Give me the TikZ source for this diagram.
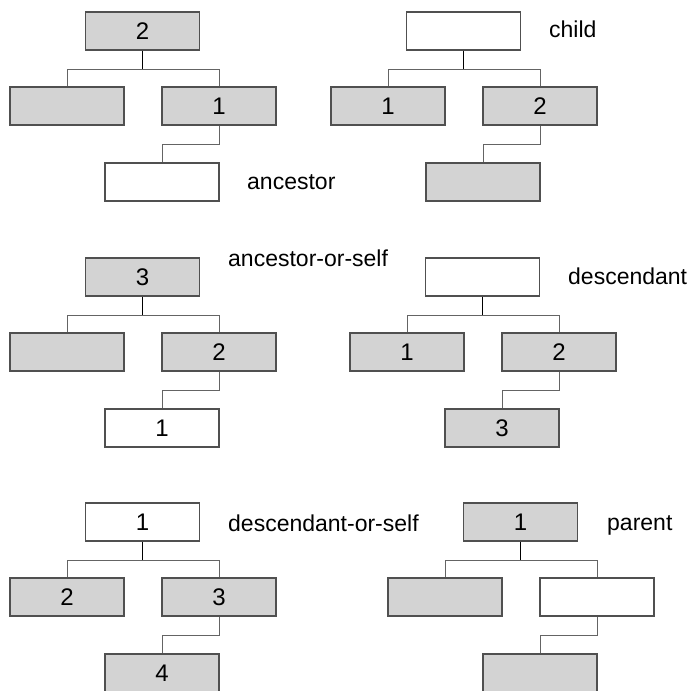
\documentclass[tikz,border=0pt]{standalone}
\usepackage{fontspec}
\setmainfont{Liberation Sans}
\definecolor{BoxClr}{RGB}{211,211,211}
\definecolor{EdgeClr}{RGB}{80,80,80}
\definecolor{LinkClr}{RGB}{100,100,100}

\begin{document}
\begin{tikzpicture}[x=1pt,y=1pt,
  box/.style={draw=EdgeClr,line width=1.2pt,minimum width=114pt,minimum height=38pt,
    inner sep=0pt,font=\fontsize{24}{28}\selectfont},
  hit/.style={box,fill=BoxClr},
  nohit/.style={box,fill=white},
  stem/.style={line width=1.8pt,black},
  link/.style={line width=1pt,LinkClr},
  axisname/.style={inner sep=0pt,anchor=base west,font=\fontsize{23}{27}\selectfont}]
\useasboundingbox (0,0) rectangle (692,690);

% ancestor
\node[hit]   (anT) at (142.5,659) {2};
\node[hit]   (anL) at (67,584) {};
\node[hit]   (anR) at (219,584) {1};
\node[nohit] (anG) at (162,508) {};
\draw[stem] (anT.south) -- ++(0,-19) coordinate (anB);
\draw[link] (anL.north) |- (anB) -| (anR.north);
\draw[link] (anR.south) -- ++(0,-19) -| (anG.north);
\node[axisname] (anN) at (247,500) {ancestor};

% child
\begin{scope}[shift={(321,0)}]
\node[nohit] (chT) at (142.5,659) {};
\node[hit]   (chL) at (67,584) {1};
\node[hit]   (chR) at (219,584) {2};
\node[hit]   (chG) at (162,508) {};
\draw[stem] (chT.south) -- ++(0,-19) coordinate (chB);
\draw[link] (chL.north) |- (chB) -| (chR.north);
\draw[link] (chR.south) -- ++(0,-19) -| (chG.north);
\end{scope}
\node[axisname] (chN) at (549,652) {child};

% ancestor-or-self
\begin{scope}[shift={(0,-246)}]
\node[hit]   (asT) at (142.5,659) {3};
\node[hit]   (asL) at (67,584) {};
\node[hit]   (asR) at (219,584) {2};
\node[nohit] (asG) at (162,508) {1};
\draw[stem] (asT.south) -- ++(0,-19) coordinate (asB);
\draw[link] (asL.north) |- (asB) -| (asR.north);
\draw[link] (asR.south) -- ++(0,-19) -| (asG.north);
\end{scope}
\node[axisname] (asN) at (228,423) {ancestor-or-self};

% descendant
\begin{scope}[shift={(340,-246)}]
\node[nohit] (deT) at (142.5,659) {};
\node[hit]   (deL) at (67,584) {1};
\node[hit]   (deR) at (219,584) {2};
\node[hit]   (deG) at (162,508) {3};
\draw[stem] (deT.south) -- ++(0,-19) coordinate (deB);
\draw[link] (deL.north) |- (deB) -| (deR.north);
\draw[link] (deR.south) -- ++(0,-19) -| (deG.north);
\end{scope}
\node[axisname] (deN) at (568,405) {descendant};

% descendant-or-self
\begin{scope}[shift={(0,-491)}]
\node[nohit] (dsT) at (142.5,659) {1};
\node[hit]   (dsL) at (67,584) {2};
\node[hit]   (dsR) at (219,584) {3};
\node[hit]   (dsG) at (162,508) {4};
\draw[stem] (dsT.south) -- ++(0,-19) coordinate (dsB);
\draw[link] (dsL.north) |- (dsB) -| (dsR.north);
\draw[link] (dsR.south) -- ++(0,-19) -| (dsG.north);
\end{scope}
\node[axisname] (dsN) at (228,158) {descendant-or-self};

% parent
\begin{scope}[shift={(378,-491)}]
\node[hit]   (paT) at (142.5,659) {1};
\node[hit]   (paL) at (67,584) {};
\node[nohit] (paR) at (219,584) {};
\node[hit]   (paG) at (162,508) {};
\draw[stem] (paT.south) -- ++(0,-19) coordinate (paB);
\draw[link] (paL.north) |- (paB) -| (paR.north);
\draw[link] (paR.south) -- ++(0,-19) -| (paG.north);
\end{scope}
\node[axisname] (paN) at (607,159) {parent};

\end{tikzpicture}
\end{document}
